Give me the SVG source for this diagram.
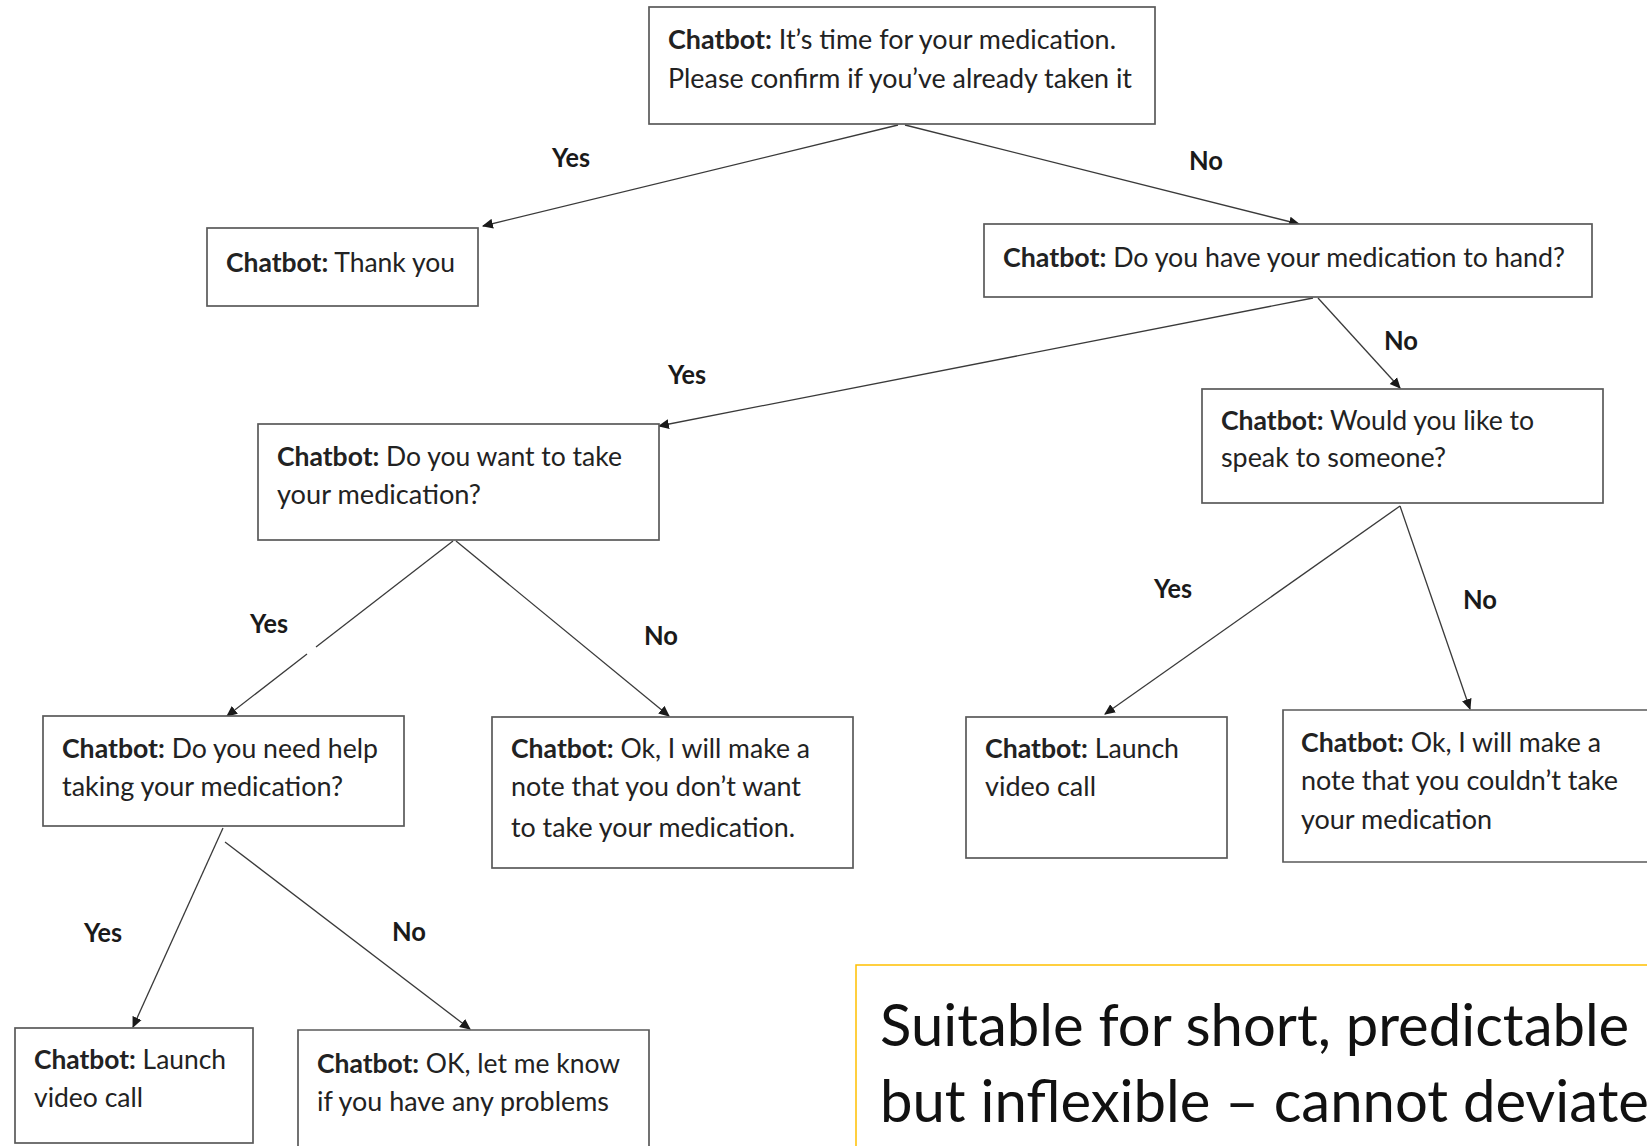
<svg xmlns="http://www.w3.org/2000/svg" width="1647" height="1146" viewBox="0 0 1647 1146">
  <style>
    .box { fill: #ffffff; stroke: #5a5a5a; stroke-width: 1.7; }
    .t { font-family: Lato, "Liberation Sans", sans-serif; font-size: 26px; fill: #222222; }
    .t tspan.b { font-weight: bold; }
    .lbl { font-family: Lato, "Liberation Sans", sans-serif; font-size: 26px; font-weight: bold; fill: #1a1a1a; }
    .edge { stroke: #3a3a3a; stroke-width: 1.3; fill: none; }
    .note { fill: none; stroke: #ffc000; stroke-width: 1.5; }
    .nt { font-family: Lato, "Liberation Sans", sans-serif; font-size: 58px; fill: #111111; }
  </style>
  <defs>
    <marker id="arrow" viewBox="0 0 10 10" refX="9" refY="5" markerWidth="11" markerHeight="11" markerUnits="userSpaceOnUse" orient="auto">
      <path d="M0,0.5 L10,5 L0,9.5 z" fill="#1a1a1a"/>
    </marker>
  </defs>

  <rect width="1647" height="1146" fill="#ffffff"/>

  <!-- connectors and branch labels -->
  <g id="connectors">
    <line class="edge" x1="898" y1="125" x2="483" y2="226" marker-end="url(#arrow)"/>
    <line class="edge" x1="905" y1="125" x2="1299" y2="224" marker-end="url(#arrow)"/>
    <line class="edge" x1="1313" y1="298" x2="659" y2="426" marker-end="url(#arrow)"/>
    <line class="edge" x1="1318" y1="298" x2="1400" y2="388" marker-end="url(#arrow)"/>
    <line class="edge" x1="453" y1="541" x2="316" y2="647"/>
    <line class="edge" x1="307" y1="654" x2="227" y2="716" marker-end="url(#arrow)"/>
    <line class="edge" x1="456" y1="541" x2="669" y2="716" marker-end="url(#arrow)"/>
    <line class="edge" x1="1400" y1="506" x2="1105" y2="714" marker-end="url(#arrow)"/>
    <line class="edge" x1="1400" y1="506" x2="1470" y2="709" marker-end="url(#arrow)"/>
    <line class="edge" x1="223" y1="828" x2="133" y2="1027" marker-end="url(#arrow)"/>
    <line class="edge" x1="225" y1="842" x2="470" y2="1029" marker-end="url(#arrow)"/>

    <text class="lbl" x="552" y="167" textLength="38" lengthAdjust="spacingAndGlyphs">Yes</text>
    <text class="lbl" x="1189" y="170" textLength="34" lengthAdjust="spacingAndGlyphs">No</text>
    <text class="lbl" x="668" y="384" textLength="38" lengthAdjust="spacingAndGlyphs">Yes</text>
    <text class="lbl" x="1384" y="350" textLength="34" lengthAdjust="spacingAndGlyphs">No</text>
    <text class="lbl" x="250" y="633" textLength="38" lengthAdjust="spacingAndGlyphs">Yes</text>
    <text class="lbl" x="644" y="645" textLength="34" lengthAdjust="spacingAndGlyphs">No</text>
    <text class="lbl" x="1154" y="598" textLength="38" lengthAdjust="spacingAndGlyphs">Yes</text>
    <text class="lbl" x="1463" y="609" textLength="34" lengthAdjust="spacingAndGlyphs">No</text>
    <text class="lbl" x="84" y="942" textLength="38" lengthAdjust="spacingAndGlyphs">Yes</text>
    <text class="lbl" x="392" y="941" textLength="34" lengthAdjust="spacingAndGlyphs">No</text>
  </g>

  <g id="node-reminder">
    <rect class="box" x="649" y="7" width="506" height="117"/>
    <text class="t" x="668" y="49" textLength="448" lengthAdjust="spacingAndGlyphs"><tspan class="b">Chatbot:</tspan> It’s time for your medication.</text>
    <text class="t" x="668" y="88" textLength="464" lengthAdjust="spacingAndGlyphs">Please confirm if you’ve already taken it</text>
  </g>

  <g id="node-thanks">
    <rect class="box" x="207" y="228" width="271" height="78"/>
    <text class="t" x="226" y="272" textLength="229" lengthAdjust="spacingAndGlyphs"><tspan class="b">Chatbot:</tspan> Thank you</text>
  </g>

  <g id="node-to-hand">
    <rect class="box" x="984" y="224" width="608" height="73"/>
    <text class="t" x="1003" y="267" textLength="562" lengthAdjust="spacingAndGlyphs"><tspan class="b">Chatbot:</tspan> Do you have your medication to hand?</text>
  </g>

  <g id="node-want-take">
    <rect class="box" x="258" y="424" width="401" height="116"/>
    <text class="t" x="277" y="466" textLength="345" lengthAdjust="spacingAndGlyphs"><tspan class="b">Chatbot:</tspan> Do you want to take</text>
    <text class="t" x="277" y="504" textLength="204" lengthAdjust="spacingAndGlyphs">your medication?</text>
  </g>

  <g id="node-speak">
    <rect class="box" x="1202" y="389" width="401" height="114"/>
    <text class="t" x="1221" y="430" textLength="313" lengthAdjust="spacingAndGlyphs"><tspan class="b">Chatbot:</tspan> Would you like to</text>
    <text class="t" x="1221" y="467" textLength="225" lengthAdjust="spacingAndGlyphs">speak to someone?</text>
  </g>

  <g id="node-need-help">
    <rect class="box" x="43" y="716" width="361" height="110"/>
    <text class="t" x="62" y="758" textLength="316" lengthAdjust="spacingAndGlyphs"><tspan class="b">Chatbot:</tspan> Do you need help</text>
    <text class="t" x="62" y="796" textLength="281" lengthAdjust="spacingAndGlyphs">taking your medication?</text>
  </g>

  <g id="node-note-dont-want">
    <rect class="box" x="492" y="717" width="361" height="151"/>
    <text class="t" x="511" y="758" textLength="299" lengthAdjust="spacingAndGlyphs"><tspan class="b">Chatbot:</tspan> Ok, I will make a</text>
    <text class="t" x="511" y="796" textLength="290" lengthAdjust="spacingAndGlyphs">note that you don’t want</text>
    <text class="t" x="511" y="837" textLength="284" lengthAdjust="spacingAndGlyphs">to take your medication.</text>
  </g>

  <g id="node-video-call-a">
    <rect class="box" x="966" y="717" width="261" height="141"/>
    <text class="t" x="985" y="758" textLength="194" lengthAdjust="spacingAndGlyphs"><tspan class="b">Chatbot:</tspan> Launch</text>
    <text class="t" x="985" y="796" textLength="111" lengthAdjust="spacingAndGlyphs">video call</text>
  </g>

  <g id="node-note-couldnt">
    <path class="box" d="M1647,710 H1283 V862 H1647"/>
    <text class="t" x="1301" y="752" textLength="300" lengthAdjust="spacingAndGlyphs"><tspan class="b">Chatbot:</tspan> Ok, I will make a</text>
    <text class="t" x="1301" y="790" textLength="317" lengthAdjust="spacingAndGlyphs">note that you couldn’t take</text>
    <text class="t" x="1301" y="829" textLength="191" lengthAdjust="spacingAndGlyphs">your medication</text>
  </g>

  <g id="node-video-call-b">
    <rect class="box" x="15" y="1028" width="238" height="115"/>
    <text class="t" x="34" y="1069" textLength="192" lengthAdjust="spacingAndGlyphs"><tspan class="b">Chatbot:</tspan> Launch</text>
    <text class="t" x="34" y="1107" textLength="109" lengthAdjust="spacingAndGlyphs">video call</text>
  </g>

  <g id="node-let-me-know">
    <path class="box" d="M298,1146 V1030 H649 V1146"/>
    <text class="t" x="317" y="1073" textLength="303" lengthAdjust="spacingAndGlyphs"><tspan class="b">Chatbot:</tspan> OK, let me know</text>
    <text class="t" x="317" y="1111" textLength="292" lengthAdjust="spacingAndGlyphs">if you have any problems</text>
  </g>

  <g id="note-summary">
    <path class="note" d="M1647,965 H856 V1146"/>
    <text class="nt" x="880" y="1046">Suitable for short, predictable</text>
    <text class="nt" x="880" y="1122">but inflexible – cannot deviate</text>
  </g>
</svg>
